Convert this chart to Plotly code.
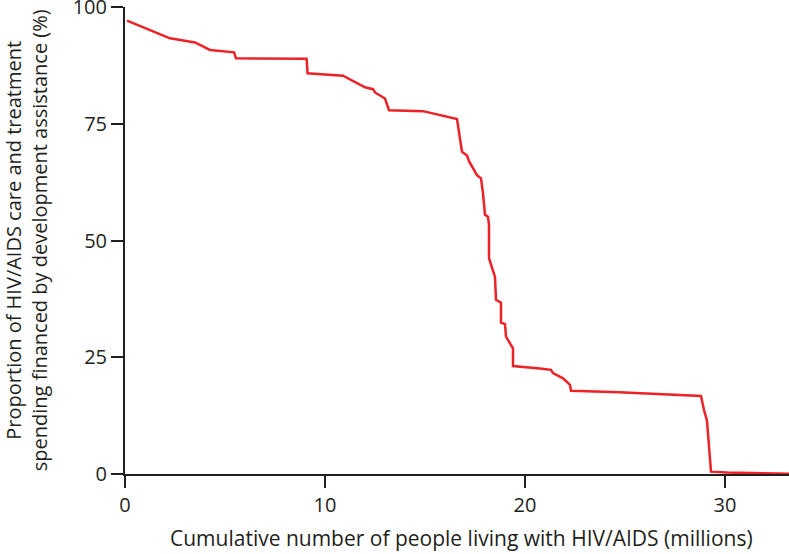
import plotly.graph_objects as go

# cumulative people living with HIV/AIDS (millions)
cumulative_plwha = [
    0.1, 2.25, 3.5, 4.25, 5.45, 5.55, 9.08, 9.13, 10.9, 11.75, 12.0, 12.4, 12.5,
    13.0, 13.2, 14.9, 16.6, 16.85, 17.1, 17.2, 17.4, 17.6, 17.8, 17.9, 18.0,
    18.15, 18.2, 18.2, 18.5, 18.55, 18.8, 18.8, 19.0, 19.05, 19.4, 19.4, 20.75,
    21.3, 21.4, 21.9, 22.25, 22.3, 24.7, 28.8, 28.95, 29.1, 29.3, 30.1, 33.3,
]
# share of care and treatment spending financed by development assistance (%)
dah_share = [
    97.1, 93.3, 92.4, 90.8, 90.3, 89.0, 88.9, 85.8, 85.3, 83.3, 82.8, 82.4, 81.7,
    80.4, 77.9, 77.7, 76.0, 69.0, 68.2, 67.0, 65.5, 64.0, 63.3, 60.1, 55.5,
    55.1, 53.3, 46.2, 42.2, 37.3, 36.7, 32.4, 32.1, 29.4, 26.9, 23.1, 22.6,
    22.3, 21.6, 20.5, 19.1, 17.8, 17.5, 16.7, 13.7, 11.4, 0.5, 0.3, 0.05,
]

x_ticks = [0, 10, 20, 30]
y_ticks = [0, 25, 50, 75, 100]

font = "Open Sans, Noto Sans, sans-serif"
axis_color = "#231f20"

fig = go.Figure()
fig.add_trace(go.Scatter(
    x=cumulative_plwha, y=dah_share, mode="lines",
    line=dict(color="#ec2227", width=2.5), showlegend=False,
))

axis_style = dict(
    showline=True, linecolor=axis_color, linewidth=2,
    ticks="outside", ticklen=12, tickwidth=2, tickcolor=axis_color,
    showgrid=False, zeroline=False, ticklabeloverflow="allow",
    automargin=False,
    tickfont=dict(family=font, size=20, color=axis_color),
)
fig.update_xaxes(range=[0, 33.2], tickvals=x_ticks, **axis_style)
fig.update_yaxes(range=[0, 100], tickvals=y_ticks, **axis_style)

fig.add_annotation(
    text="Cumulative number of people living with HIV/AIDS (millions)",
    xref="paper", yref="paper", x=0.507, y=-0.137,
    xanchor="center", yanchor="middle", showarrow=False,
    font=dict(family=font, size=21, color=axis_color),
)
fig.add_annotation(
    text="Proportion of HIV/AIDS care and treatment<br>spending financed by development assistance (%)",
    xref="paper", yref="paper", x=-0.148, y=0.5, textangle=-90,
    xanchor="center", yanchor="middle", showarrow=False,
    font=dict(family=font, size=20, color=axis_color),
)

fig.update_layout(
    width=789, height=554,
    margin=dict(l=125, r=0, t=7, b=80),
    plot_bgcolor="white", paper_bgcolor="white",
)

fig.write_html(
    "out.html",
    config={"displayModeBar": False},
    post_script="document.body.style.margin='0';",
)
